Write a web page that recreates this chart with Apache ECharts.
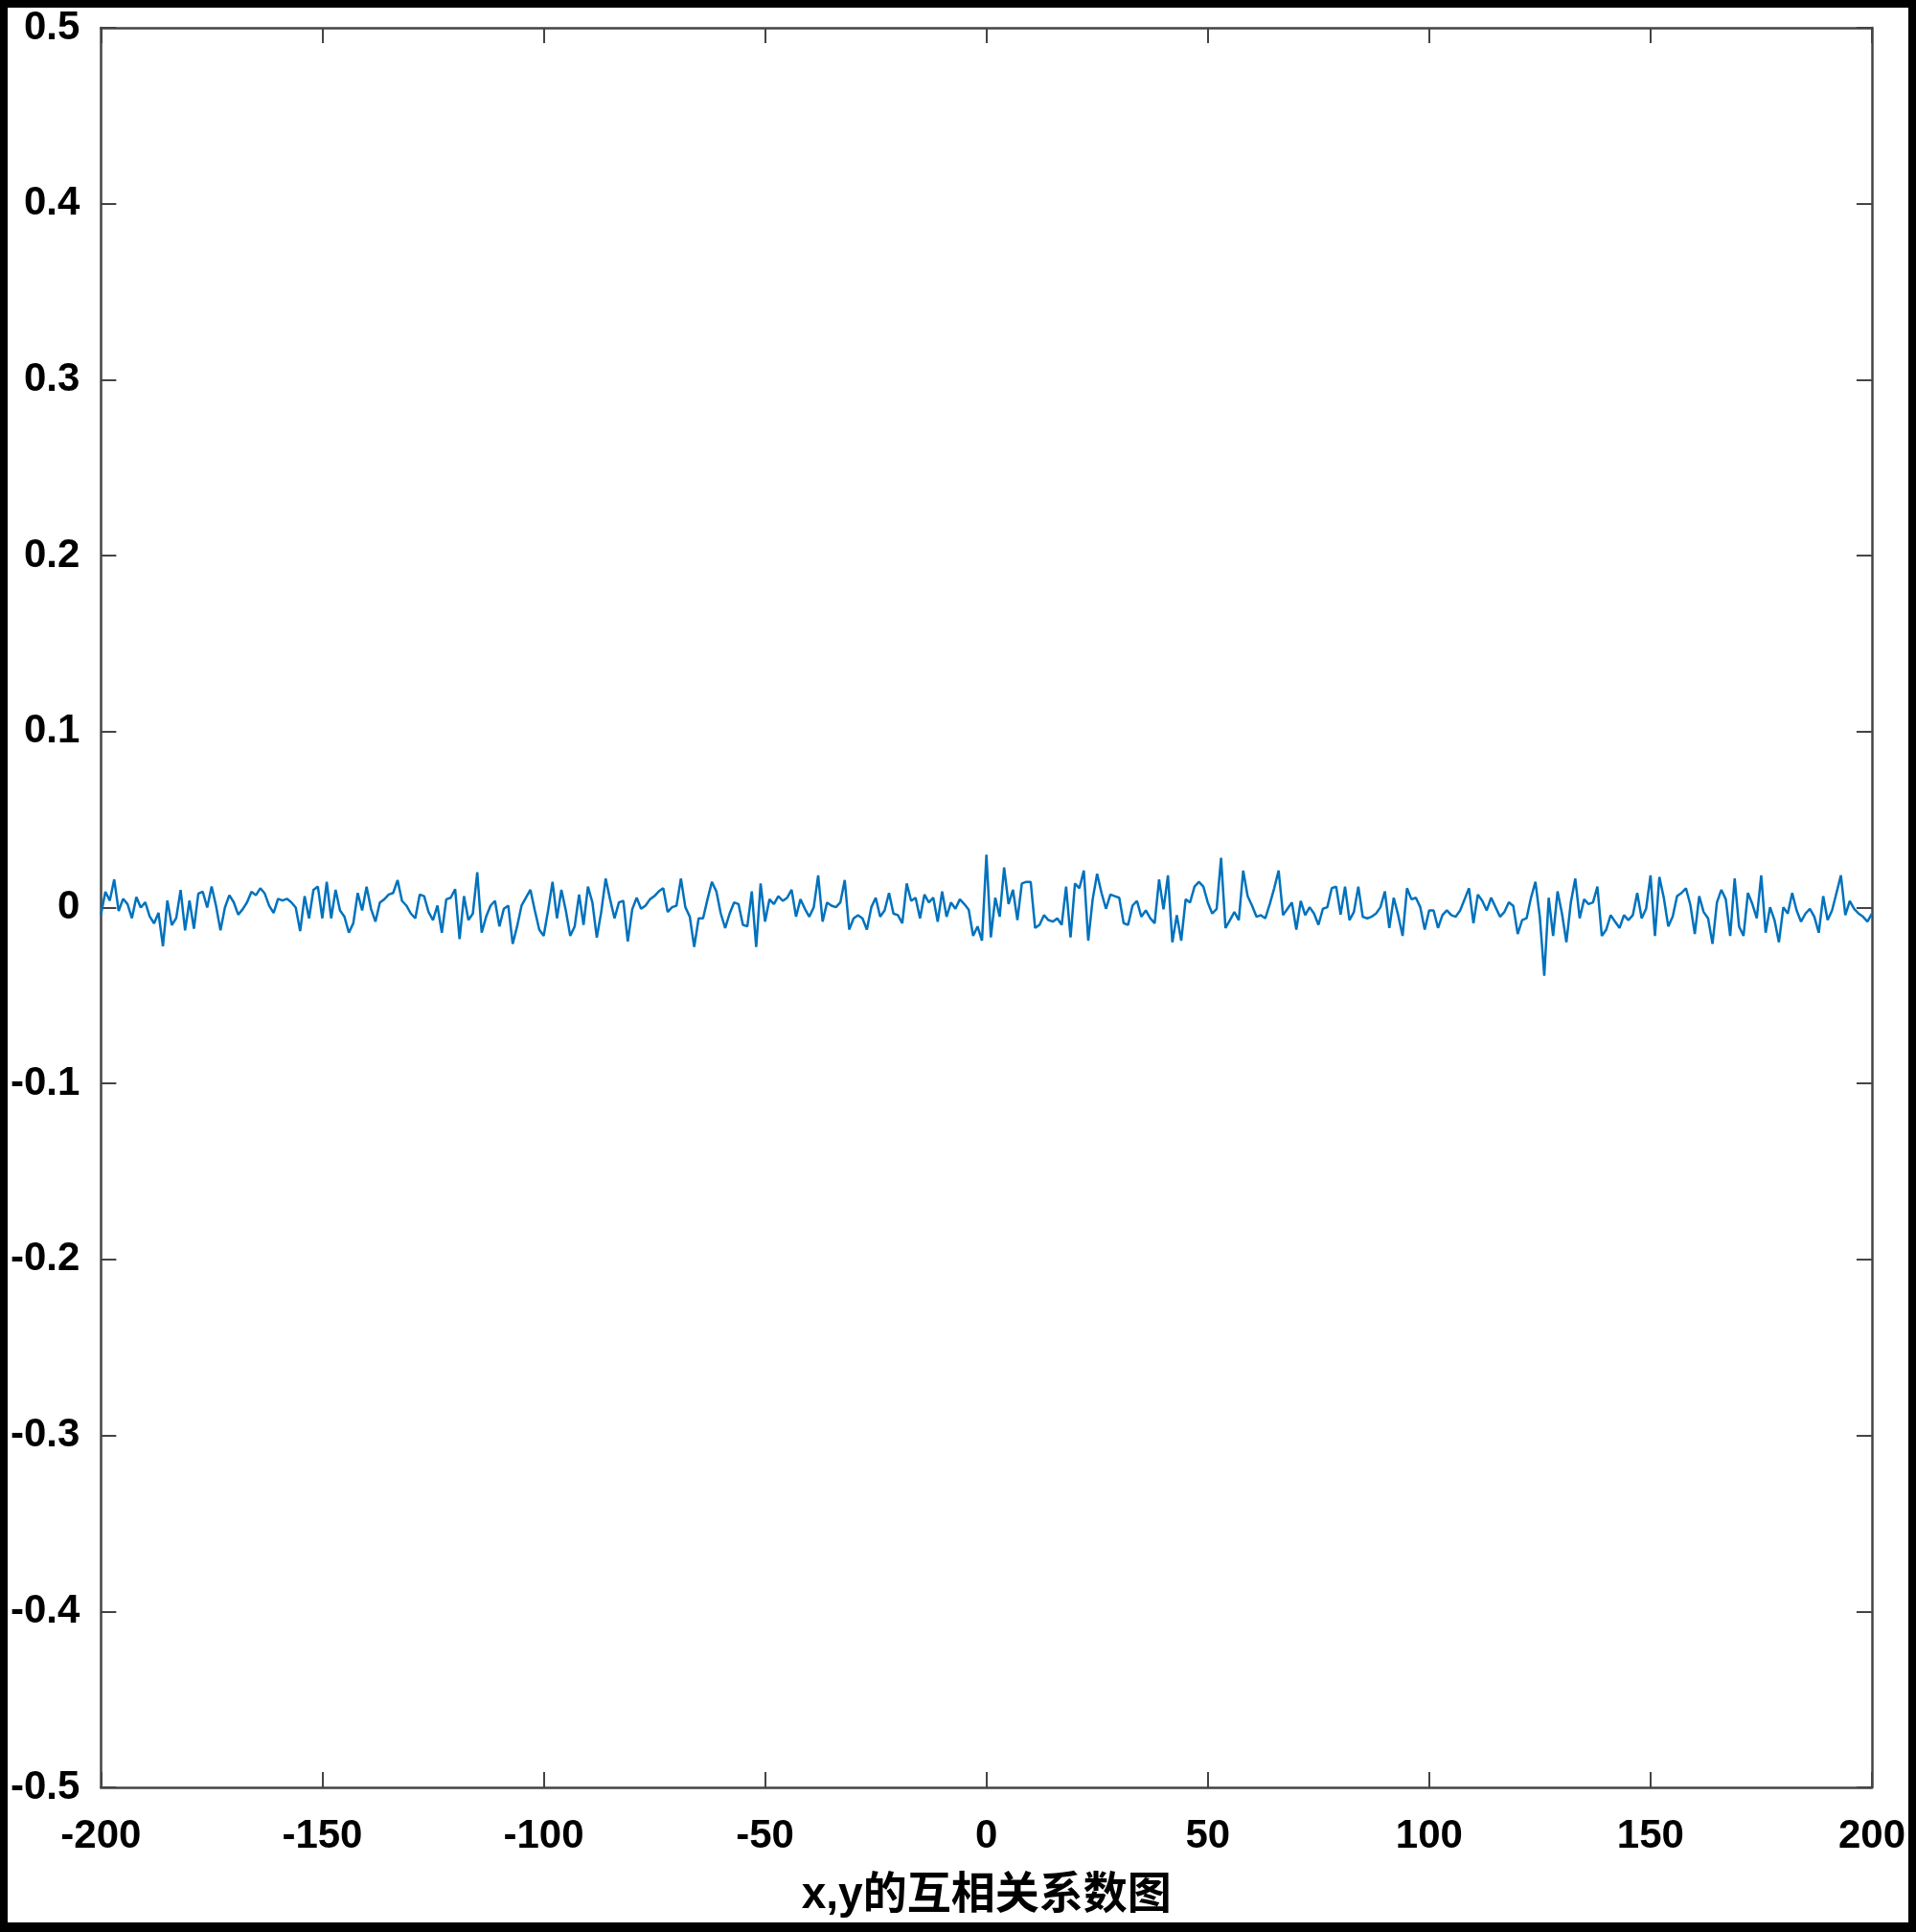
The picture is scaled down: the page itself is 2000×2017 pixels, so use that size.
<!DOCTYPE html>
<html>
<head>
<meta charset="utf-8">
<script src="https://cdn.jsdelivr.net/npm/echarts@6/dist/echarts.min.js"></script>
<style>
html, body { margin: 0; padding: 0; background: #fff; }
#frame {
    width: 2000px; height: 2017px; box-sizing: border-box;
    border: 8px solid #000; border-bottom-width: 10px; background: #fff;
}
#main { width: 1984px; height: 1999px; }
</style>
</head>
<body>
<div id="frame"><div id="main"></div></div>
<script>
// cross-correlation of x and y, lags -200 .. 200
var corr = [
    -0.0040, 0.0090, 0.0040, 0.0160, -0.0020, 0.0050, 0.0020, -0.0060, 0.0060, 0.0000,
    0.0030, -0.0050, -0.0090, -0.0030, -0.0220, 0.0040, -0.0100, -0.0060, 0.0100, -0.0130,
    0.0040, -0.0120, 0.0080, 0.0090, 0.0000, 0.0120, 0.0010, -0.0130, 0.0000, 0.0070,
    0.0030, -0.0040, -0.0010, 0.0030, 0.0090, 0.0070, 0.0110, 0.0080, 0.0010, -0.0030,
    0.0050, 0.0040,
    0.0050, 0.0030, 0.0000, -0.0134, 0.0065, -0.0061, 0.0101, 0.0119, -0.0061, 0.0146,
    -0.0061, 0.0101, -0.0016, -0.0052, -0.0143, -0.0089, 0.0083, -0.0016, 0.0119, -0.0007,
    -0.0080, 0.0029, 0.0047, 0.0074, 0.0083, 0.0156, 0.0038, 0.0011, -0.0034, -0.0061,
    0.0074, 0.0065, -0.0025, -0.0071, 0.0011, -0.0143, 0.0047, 0.0056, 0.0105,
    -0.0179, 0.0065, -0.0071, -0.0034, 0.0201, -0.0143, -0.0052, 0.0011, 0.0038, -0.0107,
    -0.0007, 0.0011, -0.0206, -0.0107, 0.0011, 0.0056, 0.0101, -0.0016, -0.0125, -0.0161,
    -0.0016, 0.0146, -0.0061, 0.0101, -0.0016, -0.0161, -0.0107, 0.0074, -0.0098, 0.0119,
    0.0029, -0.0170, -0.0025, 0.0165, 0.0047, -0.0061, 0.0029, 0.0038, -0.0193, -0.0010,
    0.0056, -0.0007, 0.0011, 0.0047, 0.0065, 0.0092, 0.0110, -0.0025, 0.0002, 0.0011,
    0.0165, 0.0002, -0.0052, -0.0224, -0.0061, -0.0061, 0.0047, 0.0146, 0.0092, -0.0034,
    -0.0116, -0.0034, 0.0029, 0.0020, -0.0098, -0.0107, 0.0092, -0.0224, 0.0137, -0.0080,
    0.0047, 0.0020, 0.0065, 0.0038, 0.0056, 0.0101, -0.0052, 0.0047, -0.0007,
    -0.0052, 0.0002, 0.0183, -0.0080, 0.0029, 0.0011, 0.0002, 0.0029, 0.0156, -0.0125,
    -0.0061, -0.0043, -0.0061, -0.0125, 0.0002, 0.0056, -0.0052, -0.0016, 0.0083, -0.0034,
    -0.0043, -0.0089, 0.0137, 0.0038, 0.0056, -0.0061, 0.0074, 0.0029, 0.0056, -0.0080,
    0.0092, -0.0052, 0.0029, -0.0007, 0.0047, 0.0020, -0.0012, -0.0161, -0.0107, -0.0188,
    0.0300, -0.0170, 0.0056, -0.0052, 0.0228, 0.0020, 0.0101, -0.0071, 0.0137, 0.0146,
    0.0146, -0.0116, -0.0098, -0.0043, -0.0071, -0.0080, -0.0061, -0.0098, 0.0119, -0.0170,
    0.0137, 0.0110, 0.0210, -0.0188, 0.0047, 0.0192, 0.0083, -0.0007, 0.0074, 0.0065,
    0.0056, -0.0089, -0.0098, 0.0011, 0.0038, -0.0052, -0.0016, -0.0061, -0.0089, 0.0160,
    -0.0010,
    0.0183, -0.0197, -0.0043, -0.0188, 0.0047, 0.0029, 0.0119, 0.0146, 0.0119, 0.0029,
    -0.0034, -0.0007, 0.0282, -0.0116, -0.0071, -0.0025, -0.0071, 0.0210, 0.0065, 0.0011,
    -0.0052, -0.0043, -0.0061, 0.0020, 0.0110, 0.0210, -0.0043, -0.0007, 0.0029, -0.0125,
    0.0038, -0.0043, 0.0002, -0.0034, -0.0098, -0.0007, 0.0002, 0.0110, 0.0119, -0.0040,
    0.0119, -0.0071, -0.0025, 0.0119, -0.0052, -0.0061, -0.0052, -0.0034, 0.0002, 0.0092,
    -0.0116, 0.0056, -0.0043, -0.0161, 0.0110, 0.0047, 0.0056, 0.0002, -0.0125, -0.0016,
    -0.0016, -0.0116, -0.0043, -0.0016, -0.0043, -0.0052, -0.0016, 0.0047, 0.0110, -0.0089,
    0.0074, 0.0038, -0.0016, 0.0056, 0.0002, -0.0052, -0.0025, 0.0030, 0.0010, -0.0150,
    -0.0071, -0.0061, 0.0056, 0.0146, -0.0052, -0.0387, 0.0056, -0.0161, 0.0092, -0.0034,
    -0.0197, 0.0029, 0.0165, -0.0061, 0.0047, 0.0020, 0.0029, 0.0119, -0.0161, -0.0125,
    -0.0043, -0.0080, -0.0116, -0.0043, -0.0071, -0.0043, 0.0083, -0.0061, -0.0007, 0.0183,
    -0.0161, 0.0174, 0.0056, -0.0107, -0.0052, 0.0065, 0.0083, 0.0110, 0.0015, -0.0150,
    0.0065, -0.0025, -0.0061, -0.0206, 0.0029, 0.0101, 0.0047, -0.0161, 0.0165, -0.0107,
    -0.0161, 0.0083, 0.0020, -0.0061, 0.0183, -0.0143, 0.0002, -0.0071, -0.0197, 0.0002,
    -0.0034, 0.0083, -0.0016, -0.0080, -0.0034, -0.0007, -0.0052, -0.0143, 0.0065, -0.0071,
    -0.0016, 0.0083, 0.0183, -0.0043, 0.0038, -0.0007, -0.0034, -0.0052, -0.0080, -0.0034
];
var lagMin = -200, lagMax = 200;
var xTickStep = 50;
var yMin = -0.5, yMax = 0.5, yTickStep = 0.1;
var xTitle = 'x,y的互相关系数图';

var points = [];
for (var i = 0; i < corr.length; i++) {
    points.push([lagMin + i, corr[i]]);
}

var axisColor = '#444444';
var labelFont = {
    color: '#000000',
    fontSize: 42,
    fontWeight: 'bold',
    fontFamily: 'Liberation Sans, Arial, sans-serif'
};

var option = {
    animation: false,
    backgroundColor: '#ffffff',
    grid: { left: 93, top: 16, right: 37, bottom: 123, containLabel: false },
    xAxis: [{
        type: 'value',
        position: 'bottom',
        min: lagMin, max: lagMax, interval: xTickStep,
        axisLine: { onZero: false, lineStyle: { color: axisColor, width: 2.5 } },
        axisTick: { inside: true, length: 16, lineStyle: { color: axisColor, width: 2 } },
        axisLabel: Object.assign({ margin: 30 }, labelFont),
        splitLine: { show: false },
        name: xTitle,
        nameLocation: 'middle',
        nameGap: 90,
        nameTextStyle: {
            color: '#000000',
            fontSize: 46,
            fontWeight: 'bold',
            fontFamily: 'Liberation Sans, Noto Sans CJK SC, sans-serif'
        }
    }, {
        type: 'value',
        position: 'top',
        min: lagMin, max: lagMax, interval: xTickStep,
        axisLine: { onZero: false, lineStyle: { color: axisColor, width: 2.5 } },
        axisTick: { inside: true, length: 16, lineStyle: { color: axisColor, width: 2 } },
        axisLabel: { show: false },
        splitLine: { show: false }
    }],
    yAxis: [{
        type: 'value',
        position: 'left',
        min: yMin, max: yMax, interval: yTickStep,
        axisLine: { onZero: false, lineStyle: { color: axisColor, width: 2.5 } },
        axisTick: { inside: true, length: 16, lineStyle: { color: axisColor, width: 2 } },
        axisLabel: Object.assign({
            margin: 22,
            formatter: function (v) { return String(+v.toFixed(1)); }
        }, labelFont),
        splitLine: { show: false }
    }, {
        type: 'value',
        position: 'right',
        min: yMin, max: yMax, interval: yTickStep,
        axisLine: { onZero: false, lineStyle: { color: axisColor, width: 2.5 } },
        axisTick: { inside: true, length: 16, lineStyle: { color: axisColor, width: 2 } },
        axisLabel: { show: false },
        splitLine: { show: false }
    }],
    series: [{
        type: 'line',
        xAxisIndex: 0,
        yAxisIndex: 0,
        data: points,
        showSymbol: false,
        symbol: 'none',
        lineStyle: { color: '#0072BD', width: 2.5 }
    }]
};

var chart = echarts.init(document.getElementById('main'));
chart.setOption(option);
</script>
</body>
</html>
